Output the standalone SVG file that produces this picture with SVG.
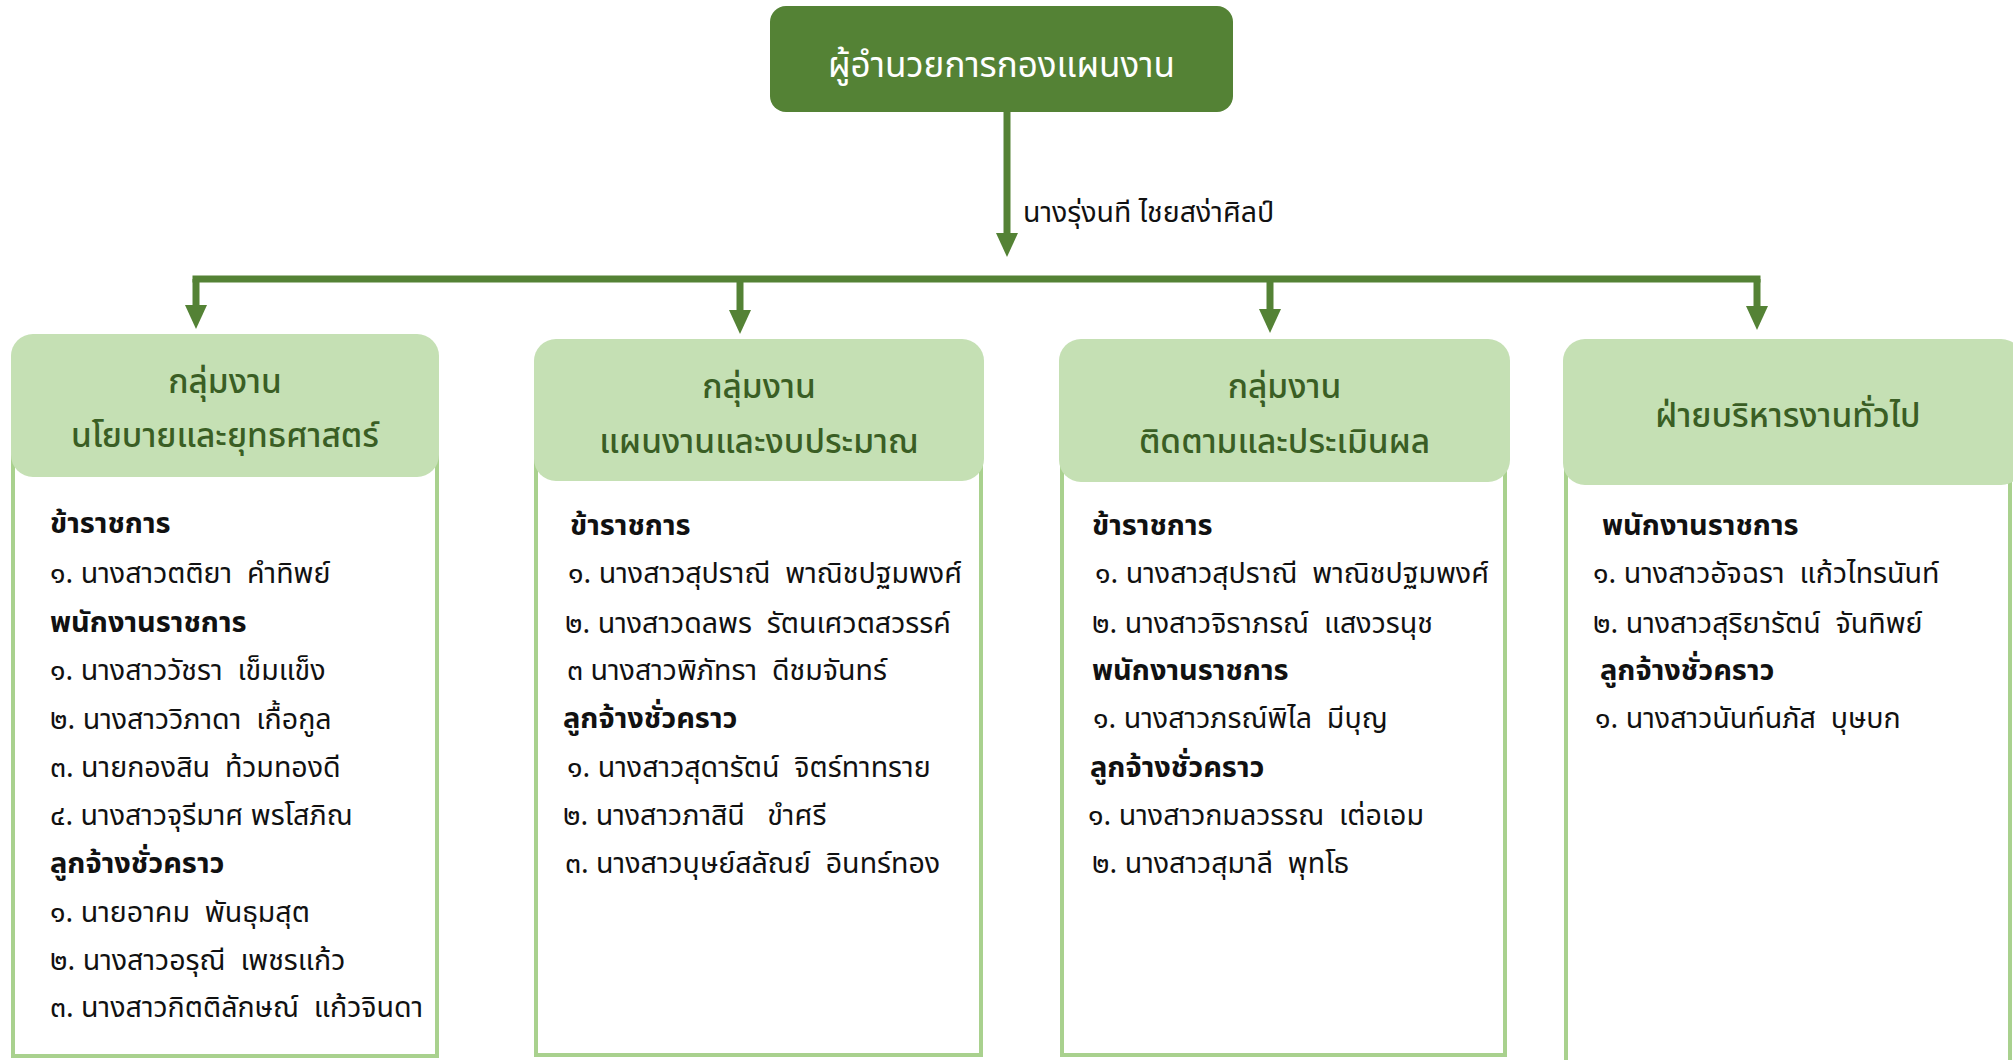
<svg xmlns="http://www.w3.org/2000/svg" width="2013" height="1060" viewBox="0 0 2013 1060">
<defs>
<style>
text{font-family:Tahoma,"Leelawadee UI","Noto Sans Thai","Noto Sans",sans-serif;white-space:pre}
.top{fill:#fff;font-size:35px;text-anchor:middle}
.lbl{fill:#111;font-size:28.5px}
.hd{fill:#3A5E24;font-size:33.5px;text-anchor:middle;font-weight:500}
.it{fill:#111;font-size:28.6px}
.b{font-weight:bold;font-size:29px}
.hdr{fill:#C5E0B4}
.body{fill:#fff;stroke:#A9D18E;stroke-width:4}
.cn{fill:none;stroke:#548235;stroke-width:7}
</style>
<marker id="ah" viewBox="0 0 24 22" refX="0" refY="11" markerWidth="24" markerHeight="22" markerUnits="userSpaceOnUse" orient="auto"><path d="M0,0 L24,11 L0,22 z" fill="#548235"/></marker>
</defs>
<rect width="2013" height="1060" fill="#fff"/>

<g id="connectors">
<path class="cn" d="M1007,112 V233" marker-end="url(#ah)"/>
<path class="cn" d="M192.5,279 H1760.5"/>
<path class="cn" d="M196,279 V305" marker-end="url(#ah)"/>
<path class="cn" d="M740,279 V310" marker-end="url(#ah)"/>
<path class="cn" d="M1270,279 V309" marker-end="url(#ah)"/>
<path class="cn" d="M1757,279 V306" marker-end="url(#ah)"/>
<text class="lbl" x="1023" y="222">นางรุ่งนที ไชยสง่าศิลป์</text>
</g>

<g id="director">
<rect x="770" y="6" width="463" height="106" rx="16" fill="#548235"/>
<text class="top" x="1001.5" y="77">ผู้อำนวยการกองแผนงาน</text>
</g>

<g id="policy">
<rect class="body" x="13" y="420" width="424" height="636"/>
<rect class="hdr" x="11" y="334" width="428" height="143" rx="22"/>
<text class="hd" x="225" y="393">กลุ่มงาน</text>
<text class="hd" x="225" y="447">นโยบายและยุทธศาสตร์</text>
<text class="it b" x="50" y="533">ข้าราชการ</text>
<text class="it" x="50" y="583">๑. นางสาวตติยา  คำทิพย์</text>
<text class="it b" x="50" y="632">พนักงานราชการ</text>
<text class="it" x="50" y="680">๑. นางสาววัชรา  เข็มแข็ง</text>
<text class="it" x="50" y="729">๒. นางสาววิภาดา  เกื้อกูล</text>
<text class="it" x="50" y="777">๓. นายกองสิน  ท้วมทองดี</text>
<text class="it" x="50" y="825">๔. นางสาวจุรีมาศ พรโสภิณ</text>
<text class="it b" x="50" y="873">ลูกจ้างชั่วคราว</text>
<text class="it" x="50" y="922">๑. นายอาคม  พันธุมสุต</text>
<text class="it" x="50" y="970">๒. นางสาวอรุณี  เพชรแก้ว</text>
<text class="it" x="50" y="1017">๓. นางสาวกิตติลักษณ์  แก้วจินดา</text>
</g>

<g id="plan-budget">
<rect class="body" x="536" y="420" width="445" height="635"/>
<rect class="hdr" x="534" y="339" width="450" height="142" rx="22"/>
<text class="hd" x="759" y="398">กลุ่มงาน</text>
<text class="hd" x="759" y="453">แผนงานและงบประมาณ</text>
<text class="it b" x="570" y="535">ข้าราชการ</text>
<text class="it" x="568" y="583">๑. นางสาวสุปราณี  พาณิชปฐมพงศ์</text>
<text class="it" x="565" y="633">๒. นางสาวดลพร  รัตนเศวตสวรรค์</text>
<text class="it" x="567" y="680">๓ นางสาวพิภัทรา  ดีชมจันทร์</text>
<text class="it b" x="563" y="728">ลูกจ้างชั่วคราว</text>
<text class="it" x="567" y="777">๑. นางสาวสุดารัตน์  จิตร์ทาทราย</text>
<text class="it" x="563" y="825">๒. นางสาวภาสินี   ขำศรี</text>
<text class="it" x="565" y="873">๓. นางสาวบุษย์สลัณย์  อินทร์ทอง</text>
</g>

<g id="monitoring">
<rect class="body" x="1062" y="420" width="443" height="635"/>
<rect class="hdr" x="1059" y="339" width="451" height="143" rx="22"/>
<text class="hd" x="1284.5" y="398">กลุ่มงาน</text>
<text class="hd" x="1284.5" y="453">ติดตามและประเมินผล</text>
<text class="it b" x="1092" y="535">ข้าราชการ</text>
<text class="it" x="1095" y="583">๑. นางสาวสุปราณี  พาณิชปฐมพงศ์</text>
<text class="it" x="1092" y="633">๒. นางสาวจิราภรณ์  แสงวรนุช</text>
<text class="it b" x="1092" y="680">พนักงานราชการ</text>
<text class="it" x="1093" y="728">๑. นางสาวภรณ์พิไล  มีบุญ</text>
<text class="it b" x="1090" y="777">ลูกจ้างชั่วคราว</text>
<text class="it" x="1088" y="825">๑. นางสาวกมลวรรณ  เต่อเอม</text>
<text class="it" x="1092" y="873">๒. นางสาวสุมาลี  พุทโธ</text>
</g>

<g id="general-admin">
<rect class="body" x="1566" y="420" width="444" height="660"/>
<rect class="hdr" x="1563" y="339" width="460" height="146" rx="22"/>
<text class="hd" x="1788" y="427">ฝ่ายบริหารงานทั่วไป</text>
<text class="it b" x="1602" y="535">พนักงานราชการ</text>
<text class="it" x="1593" y="583">๑. นางสาวอัจฉรา  แก้วไทรนันท์</text>
<text class="it" x="1593" y="633">๒. นางสาวสุริยารัตน์  จันทิพย์</text>
<text class="it b" x="1600" y="680">ลูกจ้างชั่วคราว</text>
<text class="it" x="1595" y="728">๑. นางสาวนันท์นภัส  บุษบก</text>
</g>
</svg>
